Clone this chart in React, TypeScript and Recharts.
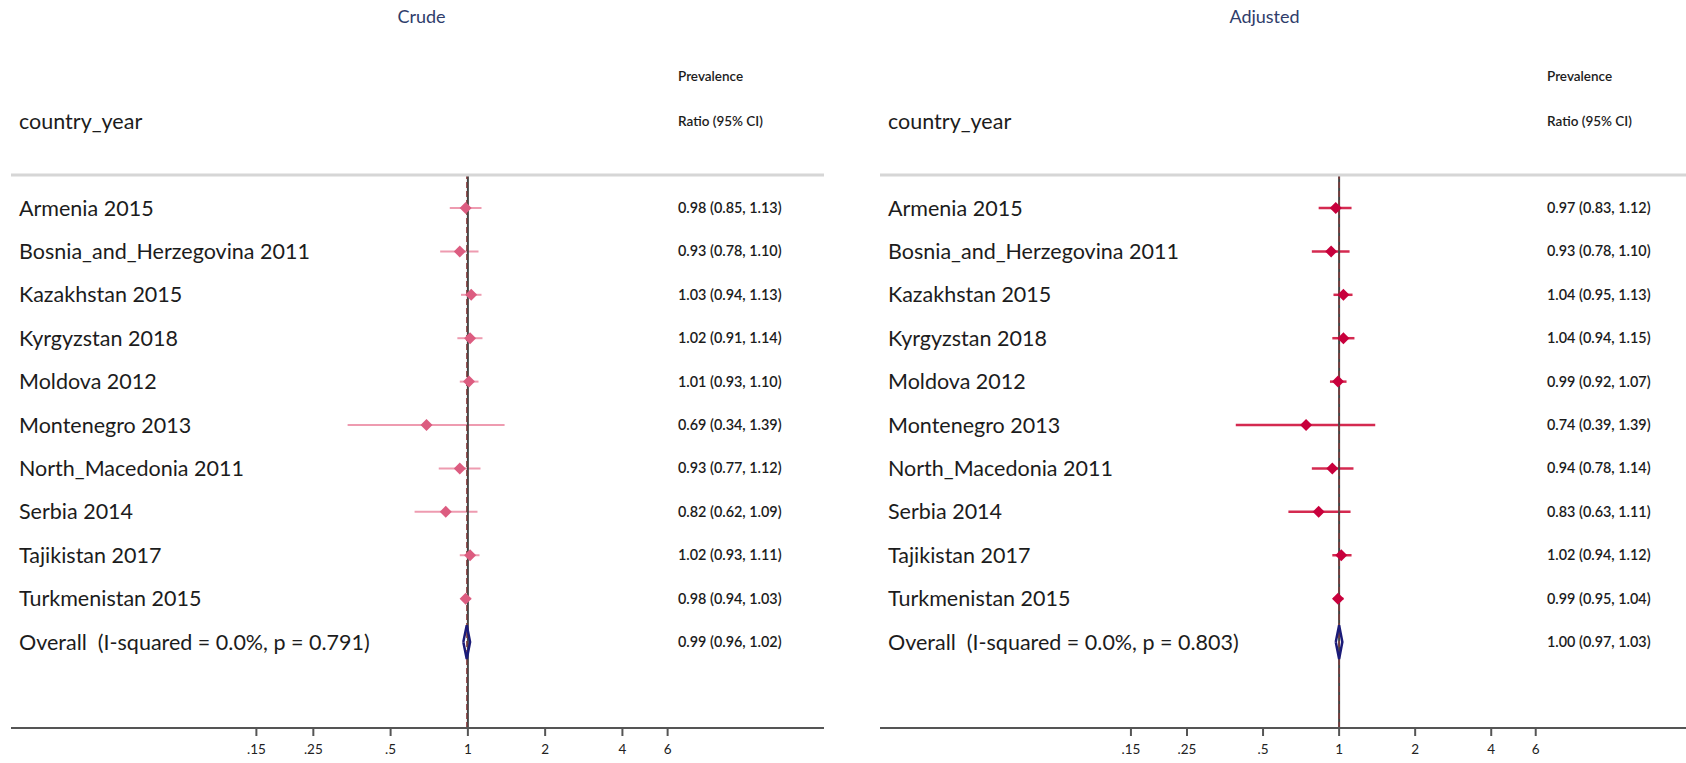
import React from 'react';
import {
  ScatterChart,
  Scatter,
  XAxis,
  YAxis,
  ReferenceLine,
} from 'recharts';

// studies, top to bottom
const studies = [
  'Armenia 2015',
  'Bosnia_and_Herzegovina 2011',
  'Kazakhstan 2015',
  'Kyrgyzstan 2018',
  'Moldova 2012',
  'Montenegro 2013',
  'North_Macedonia 2011',
  'Serbia 2014',
  'Tajikistan 2017',
  'Turkmenistan 2015',
];

const crudeEst = [0.98, 0.93, 1.03, 1.02, 1.01, 0.69, 0.93, 0.82, 1.02, 0.98];
const crudeLow = [0.85, 0.78, 0.94, 0.91, 0.93, 0.34, 0.77, 0.62, 0.93, 0.94];
const crudeHigh = [1.13, 1.1, 1.13, 1.14, 1.1, 1.39, 1.12, 1.09, 1.11, 1.03];
const crudeOverall = [0.99, 0.96, 1.02];
const crudeP = '0.791';

const adjEst = [0.97, 0.93, 1.04, 1.04, 0.99, 0.74, 0.94, 0.83, 1.02, 0.99];
const adjLow = [0.83, 0.78, 0.95, 0.94, 0.92, 0.39, 0.78, 0.63, 0.94, 0.95];
const adjHigh = [1.12, 1.1, 1.13, 1.15, 1.07, 1.39, 1.14, 1.11, 1.12, 1.04];
const adjOverall = [1.0, 0.97, 1.03];
const adjP = '0.803';

const xTicks = [0.15, 0.25, 0.5, 1, 2, 4, 6];
const xTickLabels = ['.15', '.25', '.5', '1', '2', '4', '6'];

const FONT = 'Lato, "Open Sans", sans-serif';
const DIAMOND_HALF = 0.39;
const rowTicks = studies.map((_, i) => i).concat([studies.length]);

const fmt = (v: number) => v.toFixed(2);

function Panel(props: any) {
  const {
    title, est, low, high, overall, pValue, left, width,
    margin, xDomain, ciOffset, pointColor, lineColor, lineWidth,
  } = props;
  const n = studies.length;
  const points = est.map((v: number, i: number) => ({ x: v, y: i }));
  const [oEst, oLow, oHigh] = overall;
  const diamond = [
    { x: oLow, y: n },
    { x: oEst, y: n - DIAMOND_HALF },
    { x: oHigh, y: n },
    { x: oEst, y: n + DIAMOND_HALF },
    { x: oLow, y: n },
  ];
  const names = studies.concat([`Overall  (I-squared = 0.0%, p = ${pValue})`]);
  const ciText = est
    .map((v: number, i: number) => `${fmt(v)} (${fmt(low[i])}, ${fmt(high[i])})`)
    .concat([`${fmt(oEst)} (${fmt(oLow)}, ${fmt(oHigh)})`]);

  // plot-area left edge, used to place the two text columns
  const plotLeft = margin.left + 1;

  const RowTick = ({ y, payload }: any) => (
    <g>
      <text
        x={plotLeft + 8}
        y={y}
        dy="0.35em"
        fontFamily={FONT}
        fontSize={21.5}
        fill="#1c1c1c"
        style={{ whiteSpace: 'pre' }}
      >
        {names[payload.value]}
      </text>
      <text
        x={plotLeft + ciOffset}
        y={y}
        dy="0.35em"
        fontFamily={FONT}
        fontSize={14.4}
        fontWeight={600}
        fill="#1c1c1c"
      >
        {ciText[payload.value]}
      </text>
    </g>
  );

  const Marker = ({ cx, cy }: any) => (
    <polygon
      points={`${cx - 6},${cy} ${cx},${cy - 6} ${cx + 6},${cy} ${cx},${cy + 6}`}
      fill={pointColor}
    />
  );

  return (
    <div style={{ position: 'absolute', left, top: 0, width, height: 763 }}>
      <div
        style={{
          position: 'absolute', left: 0, width, top: 5, textAlign: 'center',
          fontFamily: FONT, fontSize: 18, color: '#2f3d6b',
        }}
      >
        {title}
      </div>
      <div
        style={{
          position: 'absolute', left: plotLeft + 8, top: 108,
          fontFamily: FONT, fontSize: 21.5, color: '#1c1c1c',
        }}
      >
        country_year
      </div>
      <div
        style={{
          position: 'absolute', left: plotLeft + ciOffset, top: 68,
          fontFamily: FONT, fontSize: 13.5, fontWeight: 600, color: '#1c1c1c',
        }}
      >
        Prevalence
      </div>
      <div
        style={{
          position: 'absolute', left: plotLeft + ciOffset, top: 113,
          fontFamily: FONT, fontSize: 13.5, fontWeight: 600, color: '#1c1c1c',
        }}
      >
        Ratio (95% CI)
      </div>
      <ScatterChart width={width} height={763} margin={margin} style={{ position: 'absolute', left: 0, top: 0 }}>
        <XAxis
          xAxisId="top"
          orientation="top"
          type="number"
          scale="log"
          domain={xDomain}
          allowDataOverflow
          dataKey="x"
          height={1}
          ticks={xTicks}
          tick={false}
          tickLine={false}
          axisLine={{ stroke: '#d6d6d6', strokeWidth: 3 }}
        />
        <XAxis
          xAxisId="main"
          type="number"
          scale="log"
          domain={xDomain}
          allowDataOverflow
          dataKey="x"
          ticks={xTicks}
          tickFormatter={(v: number) => xTickLabels[xTicks.indexOf(v)] ?? ''}
          height={30}
          tickSize={8}
          tickMargin={8}
          tick={{ fontFamily: FONT, fontSize: 13.5, fill: '#222' }}
          axisLine={{ stroke: '#555', strokeWidth: 2 }}
          tickLine={{ stroke: '#555', strokeWidth: 2 }}
          interval={0}
        />
        <YAxis
          yAxisId="rows"
          type="number"
          dataKey="y"
          domain={[-0.76, 11.98]}
          reversed
          allowDataOverflow
          ticks={rowTicks}
          interval={0}
          width={1}
          tickSize={0}
          tickMargin={0}
          axisLine={false}
          tickLine={false}
          tick={<RowTick />}
        />
        {est.map((_: number, i: number) => (
          <ReferenceLine
            key={i}
            xAxisId="main"
            yAxisId="rows"
            segment={[{ x: low[i], y: i }, { x: high[i], y: i }]}
            stroke={lineColor}
            strokeWidth={lineWidth}
            ifOverflow="visible"
          />
        ))}
        <ReferenceLine
          xAxisId="main"
          yAxisId="rows"
          x={1}
          stroke="#444"
          strokeWidth={2}
        />
        <ReferenceLine
          xAxisId="main"
          yAxisId="rows"
          x={oEst}
          stroke="#8a3b3b"
          strokeWidth={1.2}
          strokeDasharray="6 3"
        />
        <Scatter
          xAxisId="main"
          yAxisId="rows"
          data={points}
          shape={<Marker />}
          isAnimationActive={false}
        />
        <Scatter
          xAxisId="main"
          yAxisId="rows"
          data={diamond}
          line={{ stroke: '#1b1b78', strokeWidth: 2.5 }}
          shape={() => <g />}
          isAnimationActive={false}
        />
      </ScatterChart>
    </div>
  );
}

export default function App() {
  return (
    <div style={{ position: 'absolute', left: 0, top: 0, width: 1686, height: 763, background: '#fff' }}>
      <Panel
        title="Crude"
        est={crudeEst}
        low={crudeLow}
        high={crudeHigh}
        overall={crudeOverall}
        pValue={crudeP}
        left={0}
        width={843}
        margin={{ top: 174, right: 19, bottom: 5, left: 10 }}
        xDomain={[0.0166, 24.4]}
        ciOffset={667}
        pointColor="#dc5c80"
        lineColor="#ee9bb0"
        lineWidth={2}
      />
      <Panel
        title="Adjusted"
        est={adjEst}
        low={adjLow}
        high={adjHigh}
        overall={adjOverall}
        pValue={adjP}
        left={843}
        width={843}
        margin={{ top: 174, right: 0, bottom: 5, left: 36 }}
        xDomain={[0.01524, 23.6]}
        ciOffset={667}
        pointColor="#c8003c"
        lineColor="#d42a50"
        lineWidth={2.5}
      />
    </div>
  );
}
